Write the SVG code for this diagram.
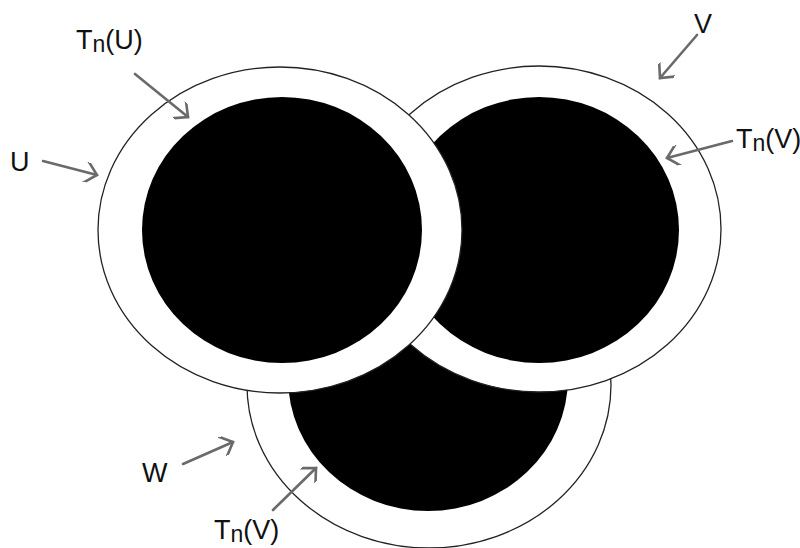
<svg xmlns="http://www.w3.org/2000/svg" width="800" height="548" viewBox="0 0 800 548">
<defs>
<style>
.outer{fill:#fff;stroke:#222;stroke-width:1.3}
.inner{fill:#000}
.arr{fill:none;stroke:#6a6a6a;stroke-width:2.6;stroke-linecap:round}
.lbl{font-family:"Liberation Sans",Arial,sans-serif;font-size:27px;fill:#111}
.sub{font-size:23px}
</style>
<marker id="head" viewBox="0 0 20 20" refX="16" refY="10" markerWidth="20" markerHeight="20" markerUnits="userSpaceOnUse" orient="auto">
<path d="M4,-1.5 L16,10 L4,21.5" fill="none" stroke="#6a6a6a" stroke-width="2.6" stroke-linecap="round" stroke-linejoin="miter"/>
</marker>
</defs>
<rect width="800" height="548" fill="#fff"/>
<g id="W">
<ellipse class="outer" cx="429" cy="385" rx="182" ry="163"/>
<ellipse class="inner" cx="428" cy="378" rx="140" ry="133"/>
</g>
<g id="V">
<ellipse class="outer" cx="539" cy="229" rx="182" ry="163"/>
<ellipse class="inner" cx="539" cy="230" rx="140" ry="133"/>
</g>
<g id="U">
<ellipse class="outer" cx="280" cy="230" rx="182" ry="163"/>
<ellipse class="inner" cx="282" cy="230" rx="140" ry="133"/>
</g>
<g id="connectors">
<line class="arr" x1="135" y1="74" x2="188" y2="117" marker-end="url(#head)"/>
<line class="arr" x1="43" y1="161" x2="97" y2="175" marker-end="url(#head)"/>
<line class="arr" x1="697" y1="35" x2="660" y2="78" marker-end="url(#head)"/>
<line class="arr" x1="732" y1="141" x2="667" y2="158" marker-end="url(#head)"/>
<line class="arr" x1="183" y1="464" x2="233" y2="442" marker-end="url(#head)"/>
<line class="arr" x1="273" y1="510" x2="316" y2="468" marker-end="url(#head)"/>
</g>
<g id="labels">
<text class="lbl" x="76" y="49">T<tspan class="sub" dy="3">n</tspan><tspan dy="-3">(U)</tspan></text>
<text class="lbl" x="10" y="171">U</text>
<text class="lbl" x="694" y="33">V</text>
<text class="lbl" x="736" y="148">T<tspan class="sub" dy="3">n</tspan><tspan dy="-3">(V)</tspan></text>
<text class="lbl" x="142" y="482">W</text>
<text class="lbl" x="214" y="539">T<tspan class="sub" dy="3">n</tspan><tspan dy="-3">(V)</tspan></text>
</g>
</svg>
